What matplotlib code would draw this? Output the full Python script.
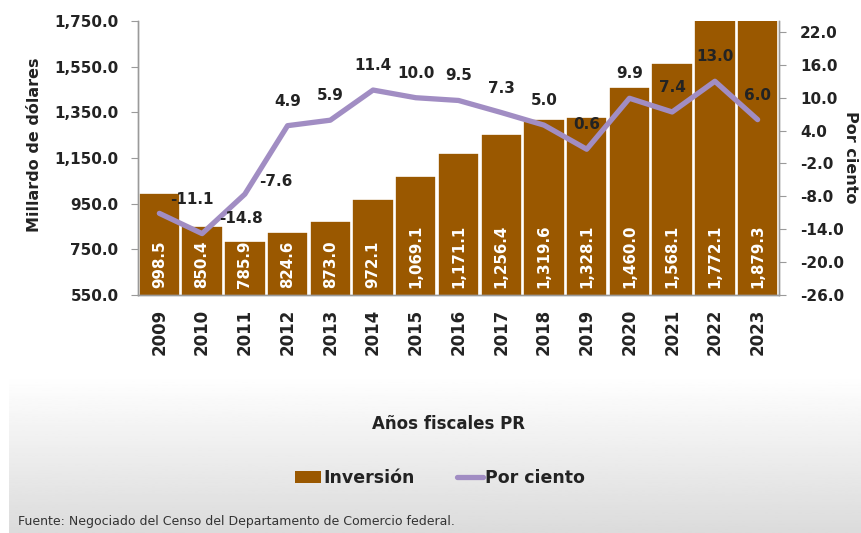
import numpy as np
import matplotlib.pyplot as plt
from matplotlib.patches import Patch
from matplotlib.lines import Line2D

# Datos
anios = ['2009', '2010', '2011', '2012', '2013', '2014', '2015', '2016',
         '2017', '2018', '2019', '2020', '2021', '2022', '2023']
inversion = [998.5, 850.4, 785.9, 824.6, 873.0, 972.1, 1069.1, 1171.1,
             1256.4, 1319.6, 1328.1, 1460.0, 1568.1, 1772.1, 1879.3]
por_ciento = [-11.1, -14.8, -7.6, 4.9, 5.9, 11.4, 10.0, 9.5,
              7.3, 5.0, 0.6, 9.9, 7.4, 13.0, 6.0]

COLOR_BARRA = '#9A5800'
COLOR_LINEA = '#A18DC3'
COLOR_TEXTO = '#232323'

plt.rcParams['font.family'] = ['DejaVu Sans']

fig = plt.figure(figsize=(8.62, 5.33), dpi=100)

# fondo degradado de la parte baja
fondo = fig.add_axes([9 / 862, 0, 1 - 9 / 862, 158 / 533], zorder=-5)
grad = np.linspace(1.0, 0.86, 100).reshape(-1, 1)
fondo.imshow(grad, aspect='auto', cmap='gray', vmin=0, vmax=1,
             extent=[0, 1, 0, 1], origin='upper')
fondo.axis('off')

ax = fig.add_axes([138 / 862, 1 - 295 / 533, (779 - 138) / 862, (295 - 21) / 533])
ax.patch.set_alpha(0)
x = np.arange(len(anios))

ax.bar(x, inversion, width=0.97, color=COLOR_BARRA, edgecolor='white',
       linewidth=1.2, zorder=2)
ax.set_ylim(550, 1750)
ax.set_xlim(-0.5, len(anios) - 0.5)
ax.set_yticks(np.arange(550, 1751, 200))
ax.set_yticklabels([f'{v:,.1f}' for v in np.arange(550, 1751, 200)])
ax.set_xticks(x)
ax.set_xticklabels(anios, rotation=90)

for xi, v in zip(x, inversion):
    ax.annotate(f'{v:,.1f}', (xi, 550), xytext=(0, 5), textcoords='offset points',
                rotation=90, ha='center', va='bottom', color='white',
                fontsize=10.8, fontweight='bold', zorder=3)

ax2 = ax.twinx()
ax2.set_ylim(-26, 24)
ax2.set_yticks(np.arange(-26, 23, 6))
ax2.set_yticklabels([f'{v:.1f}' for v in np.arange(-26, 23, 6)])
ax2.plot(x, por_ciento, color=COLOR_LINEA, linewidth=3.8,
         solid_capstyle='round', solid_joinstyle='round', zorder=4)

# desplazamiento de etiquetas en pixeles
desp = [(33, 6), (39, 8), (31, 5)] + [(0, 17)] * 12
for xi, v, (dx, dy) in zip(x, por_ciento, desp):
    ax2.annotate(f'{v:.1f}', (xi, v), xytext=(dx * 0.72, dy * 0.72),
                 textcoords='offset points', ha='center', va='bottom',
                 color=COLOR_TEXTO, fontsize=11, fontweight='bold', zorder=5)

for a in (ax, ax2):
    a.spines['top'].set_visible(False)
    for s in ('left', 'right', 'bottom'):
        a.spines[s].set_color('#9a9a9a')
        a.spines[s].set_linewidth(1)
    a.tick_params(axis='y', length=5, color='#9a9a9a', labelsize=11,
                  labelcolor=COLOR_TEXTO)
ax.tick_params(axis='y', pad=9)
ax2.tick_params(axis='y', pad=10)

ax.tick_params(axis='x', length=0, labelsize=12, labelcolor=COLOR_TEXTO, pad=10)

fig.text(35 / 862, 1 - 145 / 533, 'Millardo de dólares', rotation=90,
         ha='center', va='center', fontsize=11.5, fontweight='bold', color=COLOR_TEXTO)
fig.text(851 / 862, 1 - 157 / 533, 'Por ciento', rotation=270,
         ha='center', va='center', fontsize=11.5, fontweight='bold', color=COLOR_TEXTO)
fig.text(449 / 862, 1 - 424 / 533, 'Años fiscales PR', ha='center', va='center',
         fontsize=12, fontweight='bold', color=COLOR_TEXTO)

handles = [Patch(facecolor=COLOR_BARRA, edgecolor='none'),
           Line2D([0], [0], color=COLOR_LINEA, linewidth=3.8, solid_capstyle='round')]
leg = fig.legend(handles, ['Inversión', 'Por ciento'], loc='center',
                 bbox_to_anchor=(440 / 862, 1 - 478 / 533), ncol=2, frameon=False,
                 handlelength=1.5, handletextpad=0.15, columnspacing=2.4,
                 prop={'weight': 'bold', 'size': 12.5})
for t in leg.get_texts():
    t.set_color(COLOR_TEXTO)

fig.text(18 / 862, 1 - 521 / 533, 'Fuente: Negociado del Censo del Departamento de Comercio federal.',
         ha='left', va='center', fontsize=9, color='#333333')

# negrita en las etiquetas de los ejes
fig.canvas.draw()
for lbl in ax.get_xticklabels() + ax.get_yticklabels() + ax2.get_yticklabels():
    lbl.set_fontweight('bold')

fig.savefig('out.png', dpi=100)
